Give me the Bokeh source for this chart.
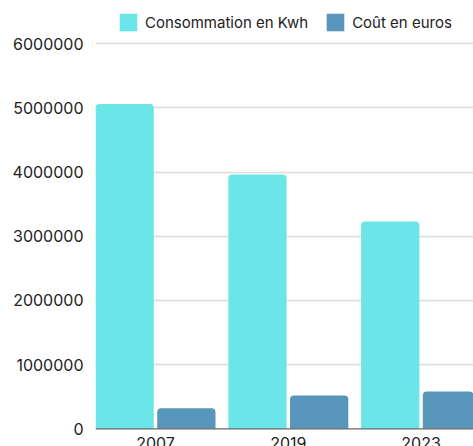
from bokeh.plotting import figure
from bokeh.models import ColumnDataSource, Range1d, FixedTicker, Legend, LegendItem, Span, NumeralTickFormatter
from bokeh.core.properties import value
from bokeh.embed import file_html
from bokeh.resources import INLINE

years = ["2007", "2019", "2023"]
consommation = [5060000, 3960000, 3230000]
cout = [320000, 520000, 580000]
y_ticks = [0, 1000000, 2000000, 3000000, 4000000, 5000000, 6000000]
series_names = ["Consommation en Kwh", "Coût en euros"]

C1 = "#6be6e8"
C2 = "#5896bb"
FONT = "Inter"

xpos = list(range(len(years)))

W, H = 473, 446
frame_left = 95
frame_w = W - frame_left
step = 132.8
# category centres in px: 155, 287.8, 420.6 ; frame left at 95
x_start = (95 - 155) / step
x_end = x_start + frame_w / step
y0 = 428.3  # canvas y of zero
ppm = 64.2  # px per million
y_start = -(H - y0) / ppm * 1e6
y_end = y0 / ppm * 1e6

p = figure(width=W, height=H, output_backend="svg", toolbar_location=None,
           x_range=Range1d(x_start, x_end), y_range=Range1d(y_start, y_end),
           min_border_left=frame_left, min_border_right=0, min_border_top=0, min_border_bottom=0)
p.outline_line_color = None
p.xaxis.visible = False
p.xgrid.visible = False

p.yaxis.ticker = FixedTicker(ticks=y_ticks)
p.yaxis.formatter = NumeralTickFormatter(format="0")
p.yaxis.axis_line_color = None
p.yaxis.major_tick_line_color = None
p.yaxis.minor_tick_line_color = None
p.yaxis.major_tick_out = 0
p.yaxis.major_label_standoff = 12
p.yaxis.major_label_text_font = FONT
p.yaxis.major_label_text_font_size = "16px"
p.yaxis.major_label_text_color = "#222222"
p.ygrid.ticker = FixedTicker(ticks=y_ticks[1:])
p.ygrid.grid_line_color = "#dcdcdc"
p.ygrid.grid_line_width = 1.5

bw = 58.3 / step
off = (58.3 + 3.4) / 2 / step
src = ColumnDataSource(dict(x=xpos, years=years, c=consommation, k=cout,
                            x1=[x - off for x in xpos], x2=[x + off for x in xpos],
                            ly=[-8.5 / ppm * 1e6] * len(xpos)))
r1 = p.vbar(x="x1", top="c", width=bw, source=src, fill_color=C1, line_color=None,
            border_radius=(4, 4, 0, 0))
r2 = p.vbar(x="x2", top="k", width=bw, source=src, fill_color=C2, line_color=None,
            border_radius=(4, 4, 0, 0))

p.add_layout(Span(location=0, dimension="width", line_color="#666666", line_width=1.2))

p.text(x="x", y="ly", text="years", source=src, text_align="center", text_baseline="top",
       text_font=value(FONT), text_font_size="16px", text_color="#222222")

gw = 22
inset = 2
legend = Legend(items=[LegendItem(label=series_names[0], renderers=[r1]),
                       LegendItem(label=series_names[1], renderers=[r2])],
                orientation="horizontal", location=(int(119.3 - inset - frame_left), int(H - (12.7 - inset) - gw)),
                padding=0, margin=0,
                spacing=16, glyph_width=gw, glyph_height=gw, label_standoff=6,
                label_text_font=FONT, label_text_font_size="15px", label_text_color="#222222",
                background_fill_alpha=0, border_line_color=None, label_height=18)
p.add_layout(legend)

open("out.html", "w").write(file_html(p, INLINE))
